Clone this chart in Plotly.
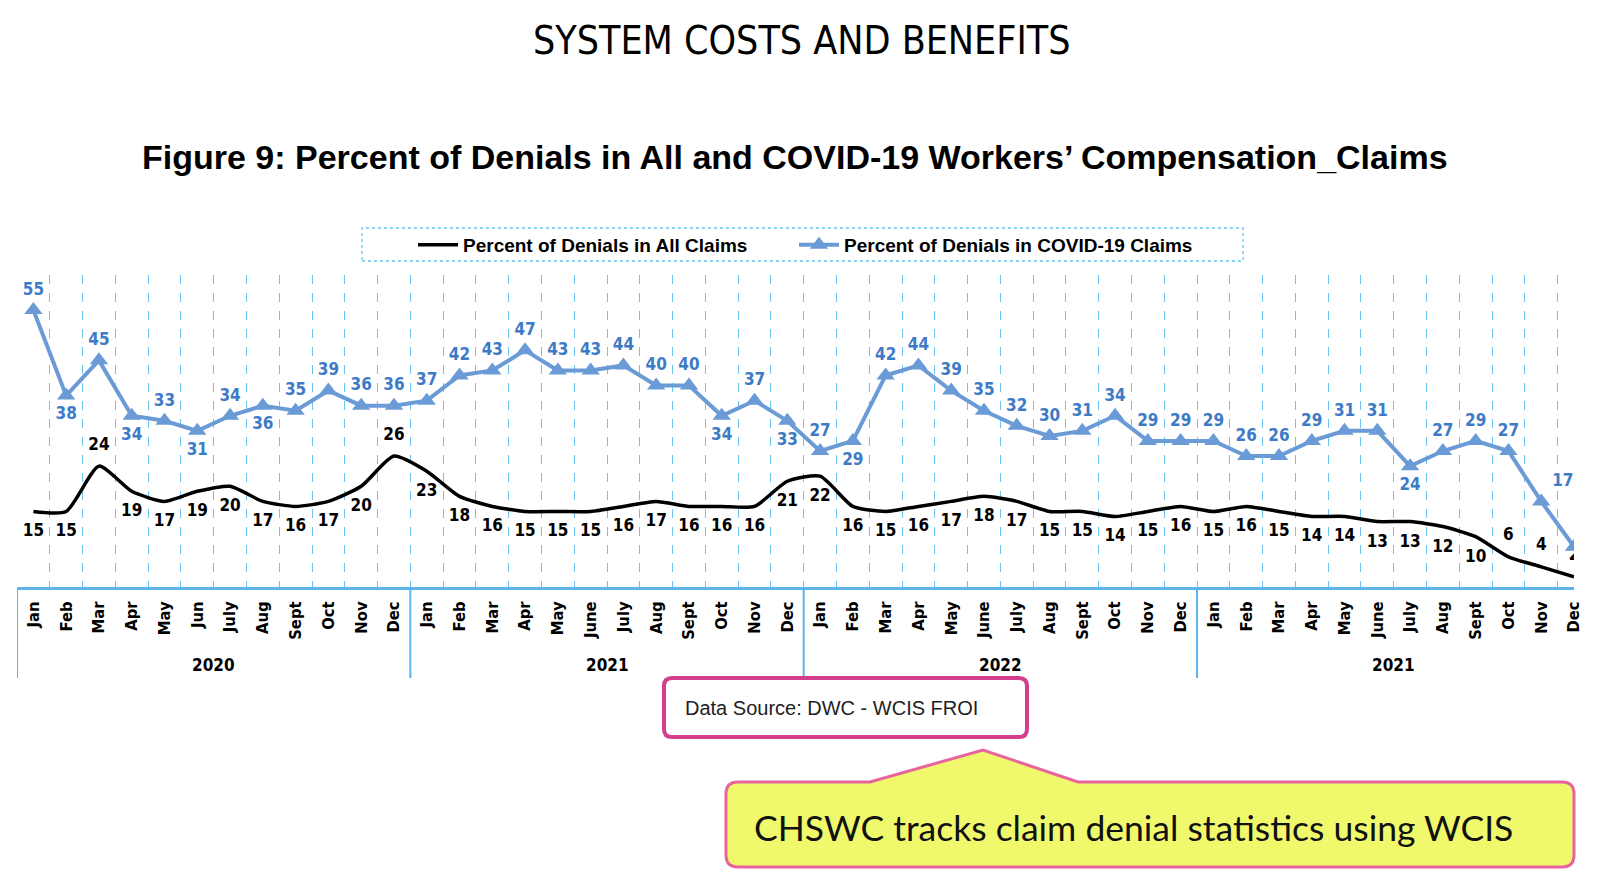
import plotly.graph_objects as go

# ---------------- data ----------------
months_2020 = ["Jan", "Feb", "Mar", "Apr", "May", "Jun", "July", "Aug", "Sept", "Oct", "Nov", "Dec"]
months_std = ["Jan", "Feb", "Mar", "Apr", "May", "June", "July", "Aug", "Sept", "Oct", "Nov", "Dec"]
year_labels = ["2020", "2021", "2022", "2021"]
month_labels = months_2020 + months_std + months_std + months_std

all_claims = [15, 15, 24, 19, 17, 19, 20, 17, 16, 17, 20, 26,
              23, 18, 16, 15, 15, 15, 16, 17, 16, 16, 16, 21,
              22, 16, 15, 16, 17, 18, 17, 15, 15, 14, 15, 16,
              15, 16, 15, 14, 14, 13, 13, 12, 10, 6, 4, 2]
covid_claims = [55, 38, 45, 34, 33, 31, 34, 36, 35, 39, 36, 36,
                37, 42, 43, 47, 43, 43, 44, 40, 40, 34, 37, 33,
                27, 29, 42, 44, 39, 35, 32, 30, 31, 34, 29, 29,
                29, 26, 26, 29, 31, 31, 24, 27, 29, 27, 17, 8]

covid_pos = ["top center", "bottom center", "top center", "bottom center", "top center", "bottom center",
             "top center", "bottom center", "top center", "top center", "top center", "top center",
             "top center", "top center", "top center", "top center", "top center", "top center",
             "top center", "top center", "top center", "bottom center", "top center", "bottom center",
             "top center", "bottom center", "top center", "top center", "top center", "top center",
             "top center", "top center", "top center", "top center", "top center", "top center",
             "top center", "top center", "top center", "top center", "top center", "top center",
             "bottom center", "top center", "top center", "top center", "top right", "top right"]
all_pos = ["bottom center"] * len(all_claims)
for i in (2, 11, 45, 46, 47):
    all_pos[i] = "top center"

x_idx = list(range(len(month_labels)))
# last COVID label lies outside the cropped chart in the reference
covid_text = [str(v) for v in covid_claims[:-1]] + [""]
all_text = [str(v) for v in all_claims]

# ---------------- geometry helpers ----------------
OFF = 8                      # page body margin of the html page
FIG_W, FIG_H = 1600 - OFF, 891 - OFF
L, R, T, B = 17, 1574, 275, 587   # plot area in screenshot pixels
W, H = R - L, B - T
Y_MAX = 55 * H / (B - 310)   # value 55 sits at y=310 in the reference


def px_x(x):
    return (x - L) / W


def px_y(y):
    return (B - y) / H


def pt(x, y):
    return f"{px_x(x):.5f},{px_y(y):.5f}"


def rr_path(x0, y0, x1, y1, r, notch=None):
    p = [f"M {pt(x0 + r, y0)}"]
    if notch:
        bl, apex, br = notch
        p += [f"L {pt(bl, y0)}", f"L {pt(*apex)}", f"L {pt(br, y0)}"]
    p += [f"L {pt(x1 - r, y0)}", f"Q {pt(x1, y0)} {pt(x1, y0 + r)}",
          f"L {pt(x1, y1 - r)}", f"Q {pt(x1, y1)} {pt(x1 - r, y1)}",
          f"L {pt(x0 + r, y1)}", f"Q {pt(x0, y1)} {pt(x0, y1 - r)}",
          f"L {pt(x0, y0 + r)}", f"Q {pt(x0, y0)} {pt(x0 + r, y0)}", "Z"]
    return " ".join(p)


NARROW = "Liberation Sans Narrow, Arial Narrow, DejaVu Sans Condensed, sans-serif"
ARIAL = "Liberation Sans, Arial, sans-serif"
AXIS_BLUE = "#5BB4EA"
GRID_BLUE = "#6CC4F0"
LINE_BLUE = "#6B9BD7"
LABEL_BLUE = "#3E7BC6"

fig = go.Figure()

fig.add_trace(go.Scatter(
    x=x_idx, y=all_claims, name="Percent of Denials in All Claims", legend="legend",
    mode="lines+markers+text", text=all_text, textposition=all_pos,
    line=dict(color="black", width=3.5, shape="spline", smoothing=0.6),
    marker=dict(size=18, color="rgba(0,0,0,0)"),
    textfont=dict(family=NARROW, size=17, color="black", weight="bold"),
))
fig.add_trace(go.Scatter(
    x=x_idx, y=covid_claims, name="Percent of Denials in COVID-19 Claims", legend="legend2",
    mode="lines+markers+text", text=covid_text, textposition=covid_pos,
    line=dict(color=LINE_BLUE, width=4),
    marker=dict(symbol="triangle-up", size=16, color=LINE_BLUE),
    textfont=dict(family=NARROW, size=17, color=LABEL_BLUE, weight="bold"),
))

n = len(month_labels)
fig.update_xaxes(
    range=[-0.5, n - 1], tickmode="array", tickvals=x_idx, ticktext=month_labels,
    tickangle=-90, showgrid=False, zeroline=False, showline=True,
    linecolor=AXIS_BLUE, linewidth=2.5, ticks="", ticklabelstandoff=5,
    tickfont=dict(family=NARROW, size=16.5, color="black", weight="bold"),
    minor=dict(tickmode="array", tickvals=[i - 0.5 for i in range(n + 1)],
               showgrid=True, gridcolor=GRID_BLUE, griddash="dash", gridwidth=1.3, ticks=""),
)
fig.update_yaxes(range=[0, Y_MAX], visible=False, showgrid=False, zeroline=False)

shapes = []
annotations = []
n_years = len(year_labels)
for i in range(n_years + 1):
    shapes.append(dict(type="line", xref="x", yref="paper", x0=i * 12 - 0.5, x1=i * 12 - 0.5,
                       y0=0, y1=px_y(678), line=dict(color=AXIS_BLUE, width=2)))
for i, yl in enumerate(year_labels):
    annotations.append(dict(text=yl, xref="x", yref="paper", x=i * 12 + 5.5, y=px_y(665),
                            showarrow=False, xanchor="center", yanchor="middle",
                            font=dict(family=NARROW, size=17, color="black", weight="bold")))

# titles
annotations.append(dict(text="SYSTEM COSTS AND BENEFITS", xref="paper", yref="paper",
                        x=px_x(802), y=px_y(40), showarrow=False, xanchor="center", yanchor="middle",
                        font=dict(family=NARROW, size=39, color="black")))
annotations.append(dict(text="Figure 9: Percent of Denials in All and COVID-19 Workers’ Compensation_Claims",
                        xref="paper", yref="paper", x=px_x(795), y=px_y(157), showarrow=False,
                        xanchor="center", yanchor="middle",
                        font=dict(family=ARIAL, size=34, color="black", weight="bold")))

# legend border (dashed)
shapes.append(dict(type="rect", xref="paper", yref="paper", x0=px_x(362), x1=px_x(1243),
                   y0=px_y(261), y1=px_y(228), line=dict(color=GRID_BLUE, width=1.3, dash="dot")))

# data source box
shapes.append(dict(type="path", xref="paper", yref="paper", path=rr_path(664, 678, 1027, 737, 8),
                   line=dict(color="#D43F8D", width=4), fillcolor="white"))
annotations.append(dict(text="Data Source: DWC - WCIS FROI", xref="paper", yref="paper",
                        x=px_x(683), y=px_y(708), showarrow=False, xanchor="left", yanchor="middle",
                        font=dict(family=ARIAL, size=20, color="#222222")))

# callout
shapes.append(dict(type="path", xref="paper", yref="paper",
                   path=rr_path(726, 782, 1574, 867, 12, notch=(870, (983, 750), 1078)),
                   line=dict(color="#E8649F", width=3), fillcolor="#F0F96B"))
annotations.append(dict(text="CHSWC tracks claim denial statistics using WCIS", xref="paper", yref="paper",
                        x=px_x(1133), y=px_y(827), showarrow=False, xanchor="center", yanchor="middle",
                        font=dict(family="Lato, Open Sans, sans-serif", size=35.5, color="#111111")))

leg_common = dict(orientation="h", yanchor="middle", y=px_y(245), xanchor="left",
                  bgcolor="rgba(0,0,0,0)", borderwidth=0, itemwidth=40,
                  font=dict(family=ARIAL, size=19, color="black", weight="bold"))

fig.update_layout(
    width=FIG_W, height=FIG_H,
    margin=dict(l=L - OFF, r=1600 - R, t=T - OFF, b=891 - B, autoexpand=False),
    paper_bgcolor="white", plot_bgcolor="white",
    showlegend=True,
    legend=dict(x=px_x(413), **leg_common),
    legend2=dict(x=px_x(794), **leg_common),
    shapes=shapes, annotations=annotations,
)

fig.write_html("out.html")
